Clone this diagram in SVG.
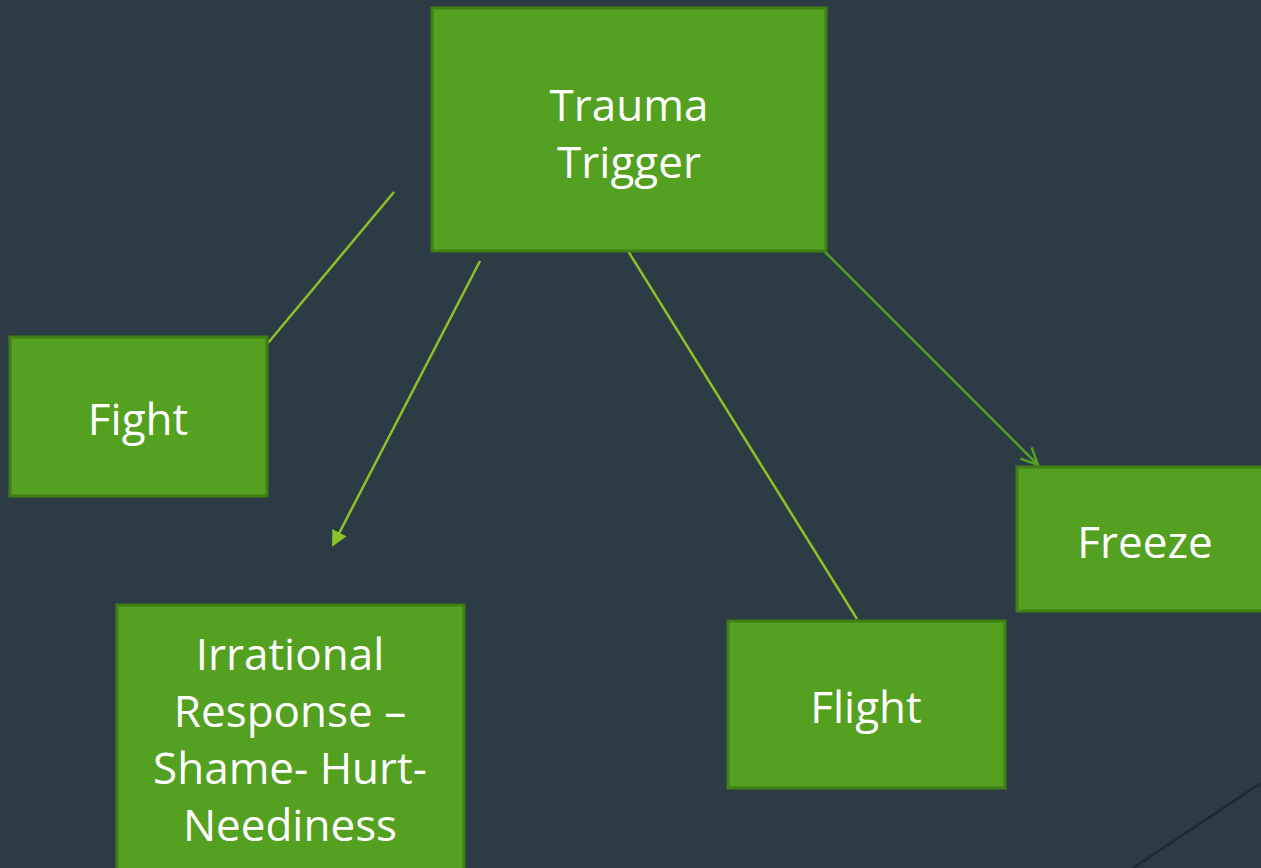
<svg xmlns="http://www.w3.org/2000/svg" width="1261" height="868" viewBox="0 0 1261 868">
<style>
.box{fill:#54a021;stroke:#3f7f15;stroke-width:3}
.t{font-family:"Open Sans","Noto Sans",sans-serif;font-size:44px;fill:#ffffff;text-anchor:middle}
.c{stroke:#8cc227;stroke-width:2.5;fill:none}
</style>
<defs>
<marker id="fa" markerWidth="16" markerHeight="16" refX="14" refY="8" orient="auto" markerUnits="userSpaceOnUse" viewBox="0 0 16 16">
<path d="M0,0 L16,8 L0,16 z" fill="#8cc227"/>
</marker>
<marker id="oa" markerWidth="22" markerHeight="22" refX="19" refY="11" orient="auto" markerUnits="userSpaceOnUse" viewBox="0 0 22 22">
<path d="M2,3 L19,11 L2,19" fill="none" stroke="#54a021" stroke-width="2.5"/>
</marker>
</defs>
<rect width="1261" height="868" fill="#2d3b44"/>
<g id="connectors">
<line class="c" x1="394" y1="192" x2="268" y2="343"/>
<line class="c" x1="480" y1="261" x2="333" y2="545" marker-end="url(#fa)"/>
<line class="c" x1="628" y1="251" x2="857" y2="619"/>
<line x1="823" y1="250" x2="1038" y2="465" stroke="#54a021" stroke-width="2.5" marker-end="url(#oa)"/>
<line x1="1261" y1="783" x2="1133" y2="868" stroke="#1f2a30" stroke-width="2.5"/>
</g>
<g id="trauma">
<rect class="box" x="432" y="8" width="394" height="243"/>
<text class="t" x="629" y="121">Trauma</text>
<text class="t" x="629" y="178">Trigger</text>
</g>
<g id="fight">
<rect class="box" x="10" y="337" width="257" height="159"/>
<text class="t" x="138" y="435">Fight</text>
</g>
<g id="irrational">
<rect class="box" x="117" y="605" width="347" height="275"/>
<text class="t" x="290" y="670">Irrational</text>
<text class="t" x="290" y="727">Response –</text>
<text class="t" x="290" y="784">Shame- Hurt-</text>
<text class="t" x="290" y="841">Neediness</text>
</g>
<g id="flight">
<rect class="box" x="728" y="621" width="277" height="167"/>
<text class="t" x="866" y="723">Flight</text>
</g>
<g id="freeze">
<rect class="box" x="1017" y="467" width="260" height="144"/>
<text class="t" x="1145" y="558">Freeze</text>
</g>
</svg>
